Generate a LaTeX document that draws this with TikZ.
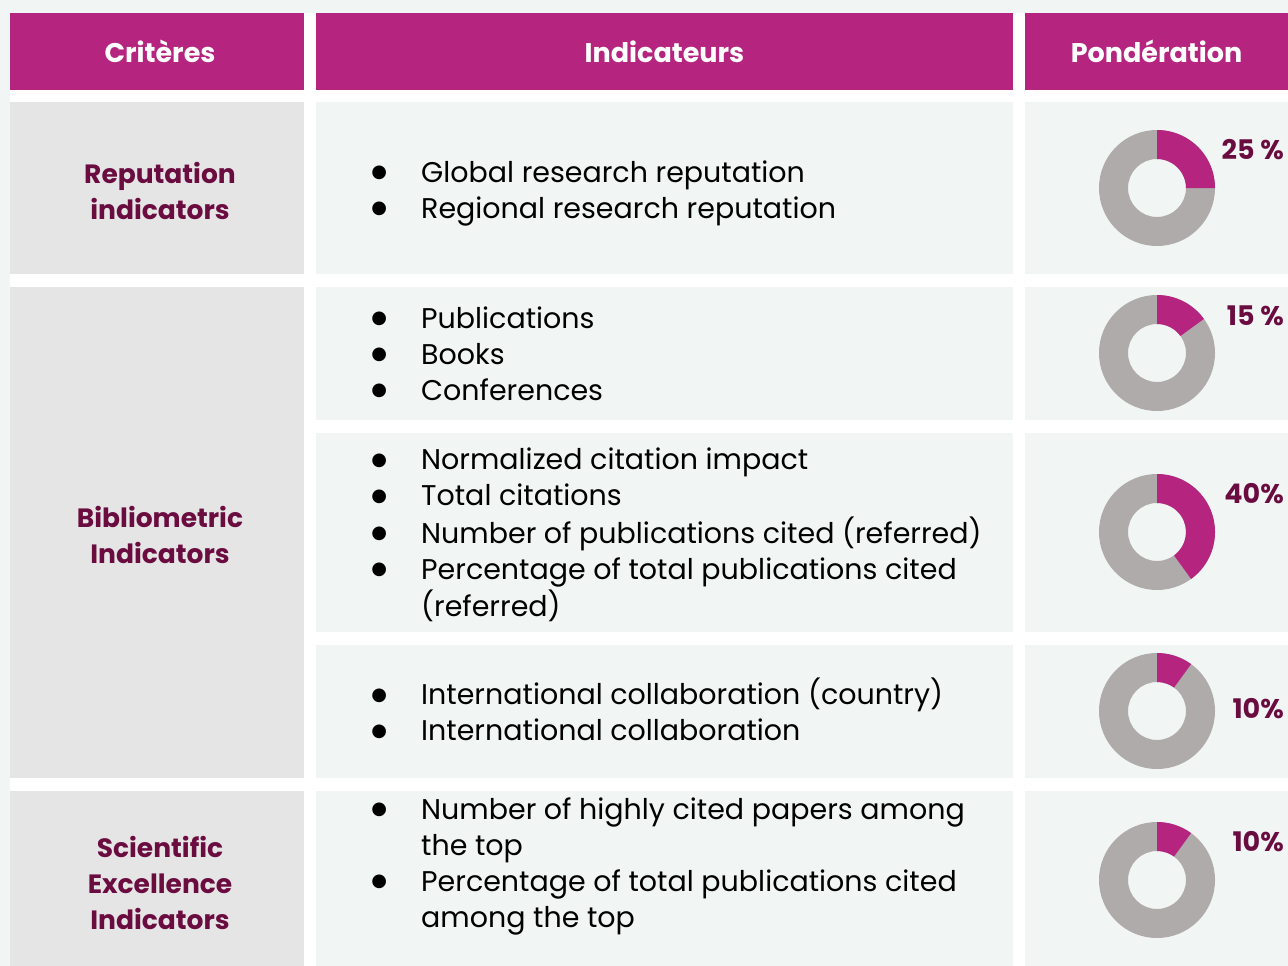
\documentclass[tikz,border=0pt]{standalone}
\usepackage{fontspec}
\setmainfont{Poppins}
\newfontfamily\symfont{DejaVu Sans}
\usetikzlibrary{calc}
\definecolor{hdrmag}{HTML}{B52580}
\definecolor{critred}{HTML}{6B0C40}
\definecolor{critgray}{HTML}{E5E5E5}
\definecolor{cellbg}{HTML}{F1F5F4}
\definecolor{ringgray}{HTML}{AFABAA}
\newcommand{\ringchart}[2]% center, percent
{\fill[ringgray,even odd rule] (#1) circle (58pt) (#1) circle (29pt);
 \fill[hdrmag] ($(#1)+(90:58pt)$) arc[start angle=90,end angle={90-3.6*#2},radius=58pt]
   -- ($(#1)+({90-3.6*#2}:29pt)$) arc[start angle={90-3.6*#2},end angle=90,radius=29pt] -- cycle;
}
\newcommand{\blt}{\makebox[12pt][c]{\raisebox{4.5pt}{\symfont\fontsize{18}{18}\selectfont ●}}}
\newcommand{\pointlist}[1]% rows: bullet & text
{\begin{tabular}{@{}p{48pt}@{}l@{}}#1\end{tabular}}

\tikzset{
  cell/.style={rectangle,anchor=north west,inner sep=0pt,outer sep=0pt},
  hdr/.style={cell,fill=hdrmag,minimum height=77pt,text=white,
    font=\fontsize{27}{30}\selectfont\bfseries},
  crit/.style={cell,fill=critgray,minimum width=294pt,text=critred,align=center,
    font=\fontsize{26.5}{36}\selectfont\bfseries},
  ind/.style={cell,fill=cellbg,minimum width=697pt},
  wt/.style={cell,fill=cellbg,minimum width=263pt},
  items/.style={anchor=west,inner sep=0pt,font=\fontsize{28.5}{36}\selectfont},
  pct/.style={anchor=east,inner sep=0pt,text=critred,font=\fontsize{27}{30}\selectfont\bfseries}
}

\begin{document}
\begin{tikzpicture}[x=1pt,y=-1pt]
  \fill[cellbg] (0,0) rectangle (1288,966);
  \fill[white] (10,13) rectangle (1288,966);
  \useasboundingbox (0,0) rectangle (1288,966);
  % header
  \node[hdr,minimum width=294pt] (hcrit) at (10,13) {\hspace*{6pt}Critères};
  \node[hdr,minimum width=697pt] (hind) at (316,13) {Indicateurs};
  \node[hdr,minimum width=263pt] (hwt) at (1025,13) {Pondération};
  % criteria
  \node[crit,minimum height=172pt] (crep) at (10,102) {};
  \node[crit,minimum height=491pt] (cbib) at (10,287) {};
  \node[crit,minimum height=175pt] (cexc) at (10,791) {};
  \node[crit,anchor=center,fill=none] (trep) at (160,191) {Reputation\\indicators};
  \node[crit,anchor=center,fill=none] (tbib) at (160,535) {Bibliometric\\Indicators};
  \node[crit,anchor=center,fill=none] (texc) at (160,883) {Scientific\\Excellence\\Indicators};
  % indicator cells
  \node[ind,minimum height=172pt] (irep) at (316,102) {};
  \node[ind,minimum height=133pt] (ipub) at (316,287) {};
  \node[ind,minimum height=199pt] (icit) at (316,433) {};
  \node[ind,minimum height=133pt] (icol) at (316,645) {};
  \node[ind,minimum height=175pt] (iexc) at (316,791) {};
  % weight cells
  \node[wt,minimum height=172pt] (wrep) at (1025,102) {};
  \node[wt,minimum height=133pt] (wpub) at (1025,287) {};
  \node[wt,minimum height=199pt] (wcit) at (1025,433) {};
  \node[wt,minimum height=133pt] (wcol) at (1025,645) {};
  \node[wt,minimum height=175pt] (wexc) at (1025,791) {};
  % indicator lists
  \node[items] (lrep) at (373,193) {\pointlist{%
    \blt & Global research reputation\\
    \blt & Regional research reputation\\}};
  \node[items] (lpub) at (373,357) {\pointlist{%
    \blt & Publications\\
    \blt & Books\\
    \blt & Conferences\\}};
  \node[items] (lcit) at (373,536) {\pointlist{%
    \blt & Normalized citation impact\\
    \blt & Total citations\\
    \blt & Number of publications cited (referred)\\
    \blt & Percentage of total publications cited\\
         & (referred)\\}};
  \node[items] (lcol) at (373,715) {\pointlist{%
    \blt & International collaboration (country)\\
    \blt & International collaboration\\}};
  \node[items] (lexc) at (373,866) {\pointlist{%
    \blt & Number of highly cited papers among\\
         & the top\\
    \blt & Percentage of total publications cited\\
         & among the top\\}};
  % weights
  \ringchart{1157,188}{25}
  \ringchart{1157,353}{15}
  \ringchart{1157,532}{40}
  \ringchart{1157,711}{10}
  \ringchart{1157,880}{10}
  \node[pct] (prep) at (1284,150) {25 \%};
  \node[pct] (ppub) at (1284,316) {15 \%};
  \node[pct] (pcit) at (1284,494) {40\%};
  \node[pct] (pcol) at (1284,709) {10\%};
  \node[pct] (pexc) at (1284,842) {10\%};
\end{tikzpicture}
\end{document}
